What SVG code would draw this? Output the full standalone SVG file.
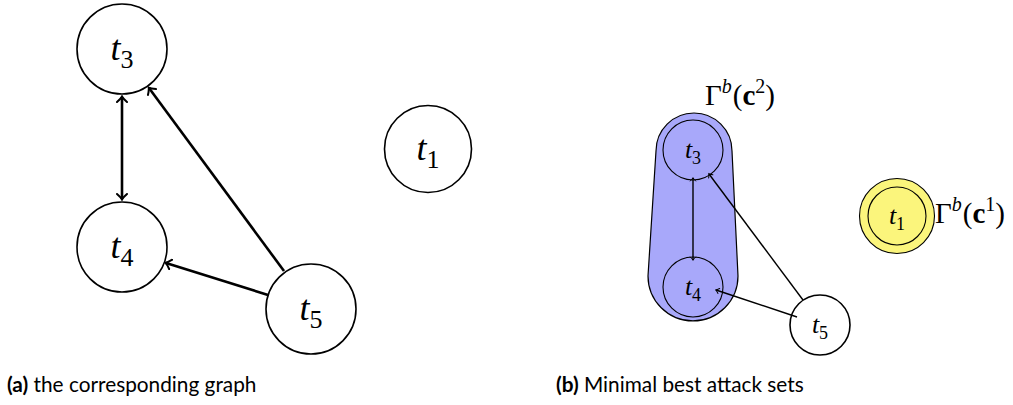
<svg xmlns="http://www.w3.org/2000/svg" width="1013" height="405" viewBox="0 0 1013 405">
<style>
.nd{fill:#fff;stroke:#000;stroke-width:1.6}
.nd2{fill:none;stroke:#000;stroke-width:1.1}
.lbl{font-family:"Liberation Serif",serif;font-style:italic;text-anchor:middle}
.sub{font-style:normal}
.big{font-size:36px}
.sm{font-size:26px}
.e1{stroke:#000;stroke-width:2.6;fill:none}
.e2{stroke:#000;stroke-width:1.4;fill:none}
.math{font-family:"Liberation Serif",serif;font-size:29px}
.cap{font-family:Lato,"Liberation Sans",sans-serif;font-size:20.8px;fill:#000}
</style>
<defs>
<marker id="ah" viewBox="-6 -6 8 12" markerWidth="8" markerHeight="12" refX="0" refY="0" orient="auto-start-reverse" markerUnits="userSpaceOnUse">
<path d="M-5,-5 Q-1.5,-1 0.5,0 Q-1.5,1 -5,5" fill="none" stroke="#000" stroke-width="2" stroke-linecap="round"/>
</marker>
<marker id="ah2" viewBox="-6 -6 8 12" markerWidth="6" markerHeight="9" refX="0" refY="0" orient="auto-start-reverse" markerUnits="userSpaceOnUse">
<path d="M-4,-3.5 Q-1.2,-0.8 0.5,0 Q-1.2,0.8 -4,3.5" fill="none" stroke="#000" stroke-width="1.3" stroke-linecap="round"/>
</marker>
</defs>

<!-- Panel (a) -->
<g id="a-t3"><circle class="nd" cx="122" cy="49" r="45"/><text class="lbl big" x="122" y="60">t<tspan class="sub" font-size="26" dy="8">3</tspan></text></g>
<g id="a-t4"><circle class="nd" cx="122" cy="247" r="45"/><text class="lbl big" x="122" y="258">t<tspan class="sub" font-size="26" dy="8">4</tspan></text></g>
<g id="a-t1"><circle class="nd" cx="428" cy="149" r="43.5"/><text class="lbl big" x="428" y="160">t<tspan class="sub" font-size="26" dy="8">1</tspan></text></g>
<g id="a-t5"><circle class="nd" cx="311" cy="309" r="45"/><text class="lbl big" x="311" y="320">t<tspan class="sub" font-size="26" dy="8">5</tspan></text></g>
<g id="a-edges">
<line class="e1" x1="122" y1="97" x2="122" y2="199" marker-start="url(#ah)" marker-end="url(#ah)"/>
<line class="e1" x1="284" y1="271" x2="149" y2="88" marker-end="url(#ah)"/>
<line class="e1" x1="268" y1="295" x2="166" y2="263" marker-end="url(#ah)"/>
</g>

<!-- Panel (b) -->
<g id="b-set2">
<path d="M656,151 A38,38 0 0 1 732,151 L738,276 A45,45 0 0 1 648,276 Z" fill="#a8a8fa" stroke="#000" stroke-width="1.2"/>
<text class="math" x="705" y="105">Γ<tspan font-style="italic" font-size="20" dy="-12">b</tspan><tspan dy="12" dx="1">(</tspan><tspan font-weight="bold">c</tspan><tspan font-size="20" dy="-12">2</tspan><tspan dy="12">)</tspan></text>
</g>
<g id="b-t3"><circle class="nd2" cx="693" cy="150" r="30"/><text class="lbl sm" x="693" y="158">t<tspan class="sub" font-size="18" dy="6">3</tspan></text></g>
<g id="b-t4"><circle class="nd2" cx="693" cy="287" r="30"/><text class="lbl sm" x="693" y="295">t<tspan class="sub" font-size="18" dy="6">4</tspan></text></g>
<g id="b-t5"><circle class="nd" cx="820" cy="325" r="30" stroke-width="1.1"/><text class="lbl sm" x="820" y="333">t<tspan class="sub" font-size="18" dy="6">5</tspan></text></g>
<g id="b-t1">
<circle cx="897" cy="216" r="37.5" fill="#fbf57c" stroke="#000" stroke-width="1.1"/>
<circle class="nd2" cx="897" cy="216" r="29"/>
<text class="lbl sm" x="897" y="224">t<tspan class="sub" font-size="18" dy="6">1</tspan></text>
<text class="math" x="935" y="223">Γ<tspan font-style="italic" font-size="20" dy="-12">b</tspan><tspan dy="12" dx="1">(</tspan><tspan font-weight="bold">c</tspan><tspan font-size="20" dy="-12">1</tspan><tspan dy="12">)</tspan></text>
</g>
<g id="b-edges">
<line class="e2" x1="693" y1="178" x2="693" y2="260" marker-start="url(#ah2)" marker-end="url(#ah2)"/>
<line class="e2" x1="803" y1="300" x2="709" y2="174" marker-end="url(#ah2)"/>
<line class="e2" x1="797" y1="317" x2="716" y2="290" marker-end="url(#ah2)"/>
</g>

<text class="cap" x="7" y="392"><tspan font-weight="bold">(a)</tspan> the corresponding graph</text>
<text class="cap" x="556" y="392"><tspan font-weight="bold">(b)</tspan> Minimal best attack sets</text>
</svg>
